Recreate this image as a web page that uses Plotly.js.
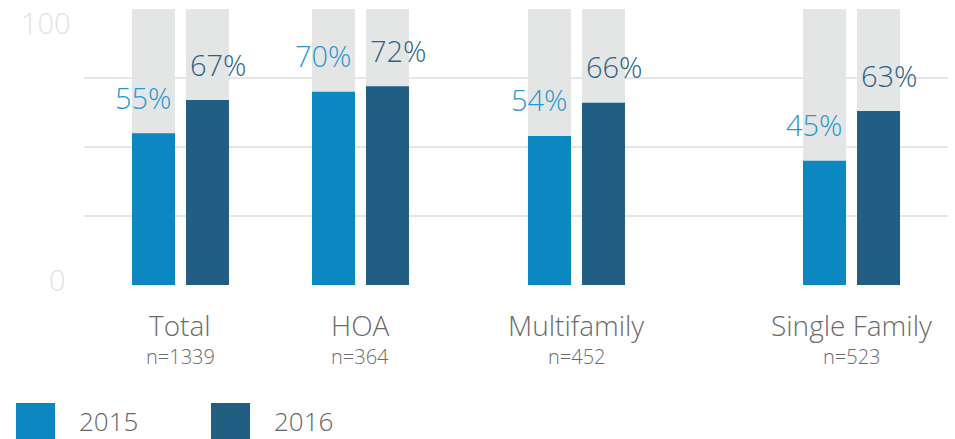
<!DOCTYPE html>
<html>
<head>
<meta charset="utf-8">
<script src="https://cdn.plot.ly/plotly-3.0.1.min.js"></script>
<style>html,body{margin:0;padding:0;background:#fff;}#chart{width:955px;height:439px;}</style>
</head>
<body>
<div id="chart"></div>
<script>
// ---- data ----
const categories = ["Total", "HOA", "Multifamily", "Single Family"];
const sampleSizes = ["n=1339", "n=364", "n=452", "n=523"];
const values2015 = [55, 70, 54, 45];
const values2016 = [67, 72, 66, 63];
const seriesNames = ["2015", "2016"];
const yTickLabels = ["0", "100"];

// ---- layout constants (positions & styles) ----
const slotPos = [0.536, 1.536, 2.736, 4.264];   // uneven category spacing as in the reference
const barOffset = 0.15, barWidth = 0.239;
const col2015 = "#0b88c1", col2016 = "#215e83";
const txt2015 = "#2b97cd", txt2016 = "#2d6388";
const bgGray = "#e4e6e6", gridGray = "#e6e6e6";
const FONT = "'Open Sans', Lato, sans-serif";
const W8 = 300;

const x15 = slotPos.map(p => p - barOffset);
const x16 = slotPos.map(p => p + barOffset);
const full = categories.map(() => 100);

const traces = [
  {type: "bar", x: x15, y: full, width: barWidth, marker: {color: bgGray}, hoverinfo: "skip", showlegend: false},
  {type: "bar", x: x16, y: full, width: barWidth, marker: {color: bgGray}, hoverinfo: "skip", showlegend: false},
  {type: "bar", name: seriesNames[0], x: x15, y: values2015, width: barWidth, marker: {color: col2015}, showlegend: false},
  {type: "bar", name: seriesNames[1], x: x16, y: values2016, width: barWidth, marker: {color: col2016}, showlegend: false}
];

const annotations = [];
values2015.forEach((v, i) => annotations.push({
  x: x15[i], y: v, xref: "x", yref: "y", text: v + "%", showarrow: false,
  xanchor: "center", yanchor: "middle", xshift: -10, yshift: 36,
  font: {family: FONT, size: 29, weight: W8, color: txt2015}
}));
values2016.forEach((v, i) => annotations.push({
  x: x16[i], y: v, xref: "x", yref: "y", text: v + "%", showarrow: false,
  xanchor: "center", yanchor: "middle", xshift: 11, yshift: 36,
  font: {family: FONT, size: 29, weight: W8, color: txt2016}
}));
categories.forEach((c, i) => {
  annotations.push({x: slotPos[i], y: 0, xref: "x", yref: "paper", text: c, showarrow: false,
    xanchor: "center", yanchor: "middle", yshift: -40, font: {family: FONT, size: 28, weight: W8, color: "#6b6b6b"}});
  annotations.push({x: slotPos[i], y: 0, xref: "x", yref: "paper", text: sampleSizes[i], showarrow: false,
    xanchor: "center", yanchor: "middle", yshift: -71, font: {family: FONT, size: 20, weight: W8, color: "#6b6b6b"}});
});
// y tick labels
annotations.push({x: 0, y: 100, xref: "paper", yref: "y", text: yTickLabels[1], showarrow: false,
  xanchor: "right", yanchor: "middle", xshift: -11, yshift: -13, font: {family: FONT, size: 29, weight: W8, color: "#e2e2e2"}});
annotations.push({x: 0, y: 0, xref: "paper", yref: "y", text: yTickLabels[0], showarrow: false,
  xanchor: "right", yanchor: "middle", xshift: -16, yshift: 6, font: {family: FONT, size: 29, weight: W8, color: "#e2e2e2"}});

// legend (drawn manually for large square keys)
const W = 864, H = 276;
const px = v => (v - 84) / W;
const py = v => (285 - v) / H;
const shapes = [
  {type: "rect", xref: "paper", yref: "paper", x0: px(16), x1: px(55), y0: py(403), y1: py(445), fillcolor: col2015, line: {width: 0}},
  {type: "rect", xref: "paper", yref: "paper", x0: px(211), x1: px(250), y0: py(403), y1: py(445), fillcolor: col2016, line: {width: 0}}
];
annotations.push({x: px(78), y: py(421), xref: "paper", yref: "paper", text: seriesNames[0], showarrow: false,
  xanchor: "left", yanchor: "middle", borderpad: 0, font: {family: FONT, size: 26, weight: W8, color: "#666666"}});
annotations.push({x: px(273), y: py(421), xref: "paper", yref: "paper", text: seriesNames[1], showarrow: false,
  xanchor: "left", yanchor: "middle", borderpad: 0, font: {family: FONT, size: 26, weight: W8, color: "#666666"}});

const layout = {
  width: 955, height: 439,
  margin: {l: 84, r: 7, t: 9, b: 154, pad: 0},
  paper_bgcolor: "#ffffff", plot_bgcolor: "#ffffff",
  barmode: "overlay",
  showlegend: false,
  xaxis: {range: [0, 4.8], showgrid: false, zeroline: false, showticklabels: false, ticks: "", fixedrange: true},
  yaxis: {range: [0, 100], tickvals: [0, 25, 50, 75, 100], showticklabels: false, ticks: "",
          showgrid: true, gridcolor: gridGray, gridwidth: 2, zeroline: false, fixedrange: true},
  annotations: annotations,
  shapes: shapes,
  font: {family: FONT}
};

Plotly.newPlot("chart", traces, layout, {displayModeBar: false, staticPlot: true});
</script>
</body>
</html>
